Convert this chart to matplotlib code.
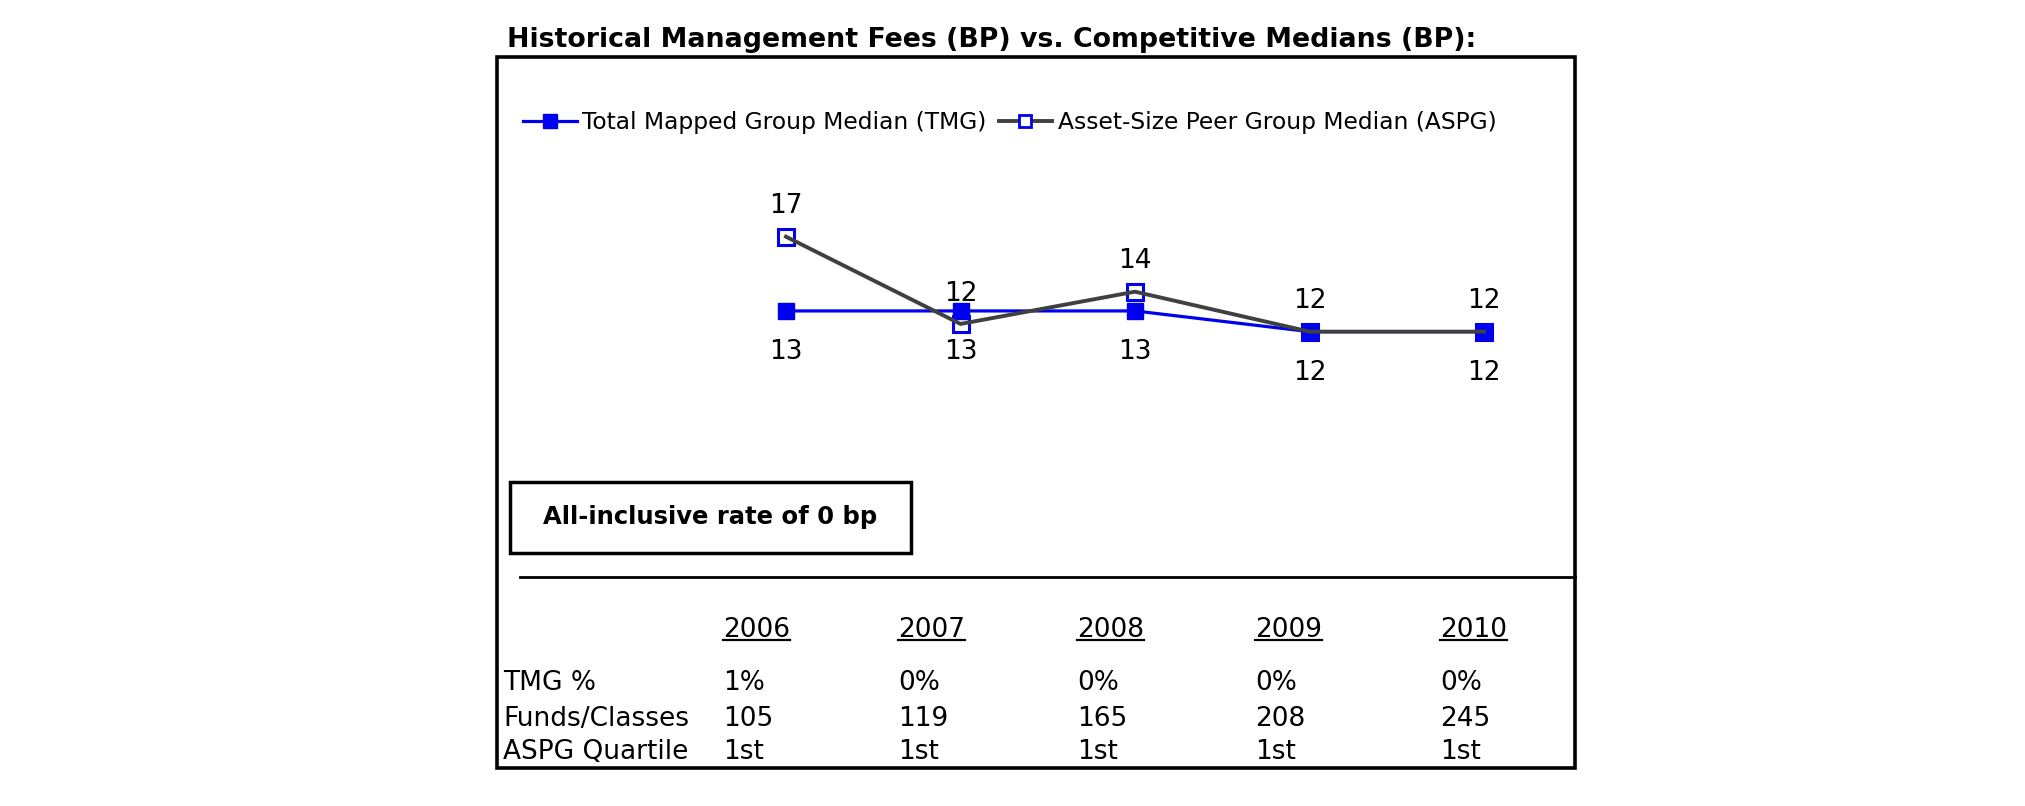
import matplotlib
matplotlib.use("Agg")
import matplotlib.pyplot as plt
from matplotlib.lines import Line2D
from matplotlib.patches import Rectangle

plt.rcParams['font.family'] = ['DejaVu Sans']

# ---------------- data ----------------
years = ["2006", "2007", "2008", "2009", "2010"]
tmg_median = [12.95, 12.95, 12.95, 11.82, 11.82]
aspg_median = [17.0, 12.24, 14.0, 11.82, 11.82]
tmg_pct = ["1%", "0%", "0%", "0%", "0%"]
funds_classes = ["105", "119", "165", "208", "245"]
aspg_quartile = ["1st", "1st", "1st", "1st", "1st"]
row_labels = ["TMG %", "Funds/Classes", "ASPG Quartile"]
title = "Historical Management Fees (BP) vs. Competitive Medians (BP):"
series_names = ["Total Mapped Group Median (TMG)", "Asset-Size Peer Group Median (ASPG)"]
note = "All-inclusive rate of 0 bp"

BLUE = "#0000F0"
GRAY = "#404040"

W, H = 2025, 806
fig = plt.figure(figsize=(W / 100, H / 100), dpi=100)
fig.patch.set_facecolor("white")


def fx(px):
    return px / W


def fy(py):
    return 1 - py / H


# outer frame
fig.add_artist(Rectangle((fx(497), fy(768)), fx(1575) - fx(497), fy(57) - fy(768),
                         transform=fig.transFigure, fill=False, lw=2.6, ec="black"))
# title
fig.text(fx(507), fy(47), title, fontsize=19.3, fontweight="bold", ha="left", va="baseline")

# ---------------- line chart ----------------
ax = fig.add_axes([fx(698.75), fy(383.34), fx(872.5), 183.3 / H])
ax.set_xlim(-0.5, len(years) - 0.5)
ax.set_ylim(9, 19)
ax.axis("off")
x = list(range(len(years)))

ax.plot(x, aspg_median, ls="none", marker="s", ms=11, mfc="white", mec=BLUE, mew=2.2, zorder=2)
ax.plot(x, tmg_median, color=BLUE, lw=2.3, marker="s", ms=11.5, mfc=BLUE, mec=BLUE, zorder=3)
ax.plot(x, aspg_median, color=GRAY, lw=2.8, zorder=4)

for xi, a, t in zip(x, aspg_median, tmg_median):
    ax.annotate(f"{round(a)}", (xi, a), xytext=(0, 16.8), textcoords="offset points",
                ha="center", va="baseline", fontsize=19)
    ax.annotate(f"{round(t)}", (xi, t), xytext=(0, -34.6), textcoords="offset points",
                ha="center", va="baseline", fontsize=19)

handles = [
    Line2D([], [], color=BLUE, lw=2.3, marker="s", ms=9.5, mfc=BLUE, mec=BLUE),
    Line2D([], [], color=GRAY, lw=2.8, marker="s", ms=9, mfc="white", mec=BLUE, mew=2),
]
fig.legend(handles, series_names, loc="center left", bbox_to_anchor=(fx(523), fy(123)),
           ncol=2, frameon=False, borderpad=0, borderaxespad=0, handlelength=2.3,
           handletextpad=0.25, columnspacing=0.5, fontsize=16.8)

# note box
fig.add_artist(Rectangle((fx(510), fy(553)), fx(911) - fx(510), fy(482) - fy(553),
                         transform=fig.transFigure, fill=False, lw=2.5, ec="black"))
fig.text((fx(510) + fx(911)) / 2, fy(517), note, fontsize=17.5, fontweight="bold",
         ha="center", va="center")

# separator
fig.add_artist(Line2D([fx(520), fx(1575)], [fy(577), fy(577)], transform=fig.transFigure,
                      color="black", lw=2))

# ---------------- table ----------------
col_left = [723, 898, 1077, 1255, 1440]
year_texts = []
for cx, yr in zip(col_left, years):
    year_texts.append(fig.text(fx(cx), fy(637), yr, fontsize=19, ha="left", va="baseline"))

rows = [tmg_pct, funds_classes, aspg_quartile]
row_base = [690, 726, 759]
for lab, vals, by in zip(row_labels, rows, row_base):
    fig.text(fx(503), fy(by), lab, fontsize=19, ha="left", va="baseline")
    for cx, v in zip(col_left, vals):
        fig.text(fx(cx), fy(by), v, fontsize=19, ha="left", va="baseline")

# underline the year headers
fig.canvas.draw()
renderer = fig.canvas.get_renderer()
for t in year_texts:
    bb = t.get_window_extent(renderer)
    fig.add_artist(Line2D([bb.x0 / W, bb.x1 / W], [fy(640), fy(640)],
                          transform=fig.transFigure, color="black", lw=1.6))

fig.savefig("out.png", dpi=100, facecolor="white")
